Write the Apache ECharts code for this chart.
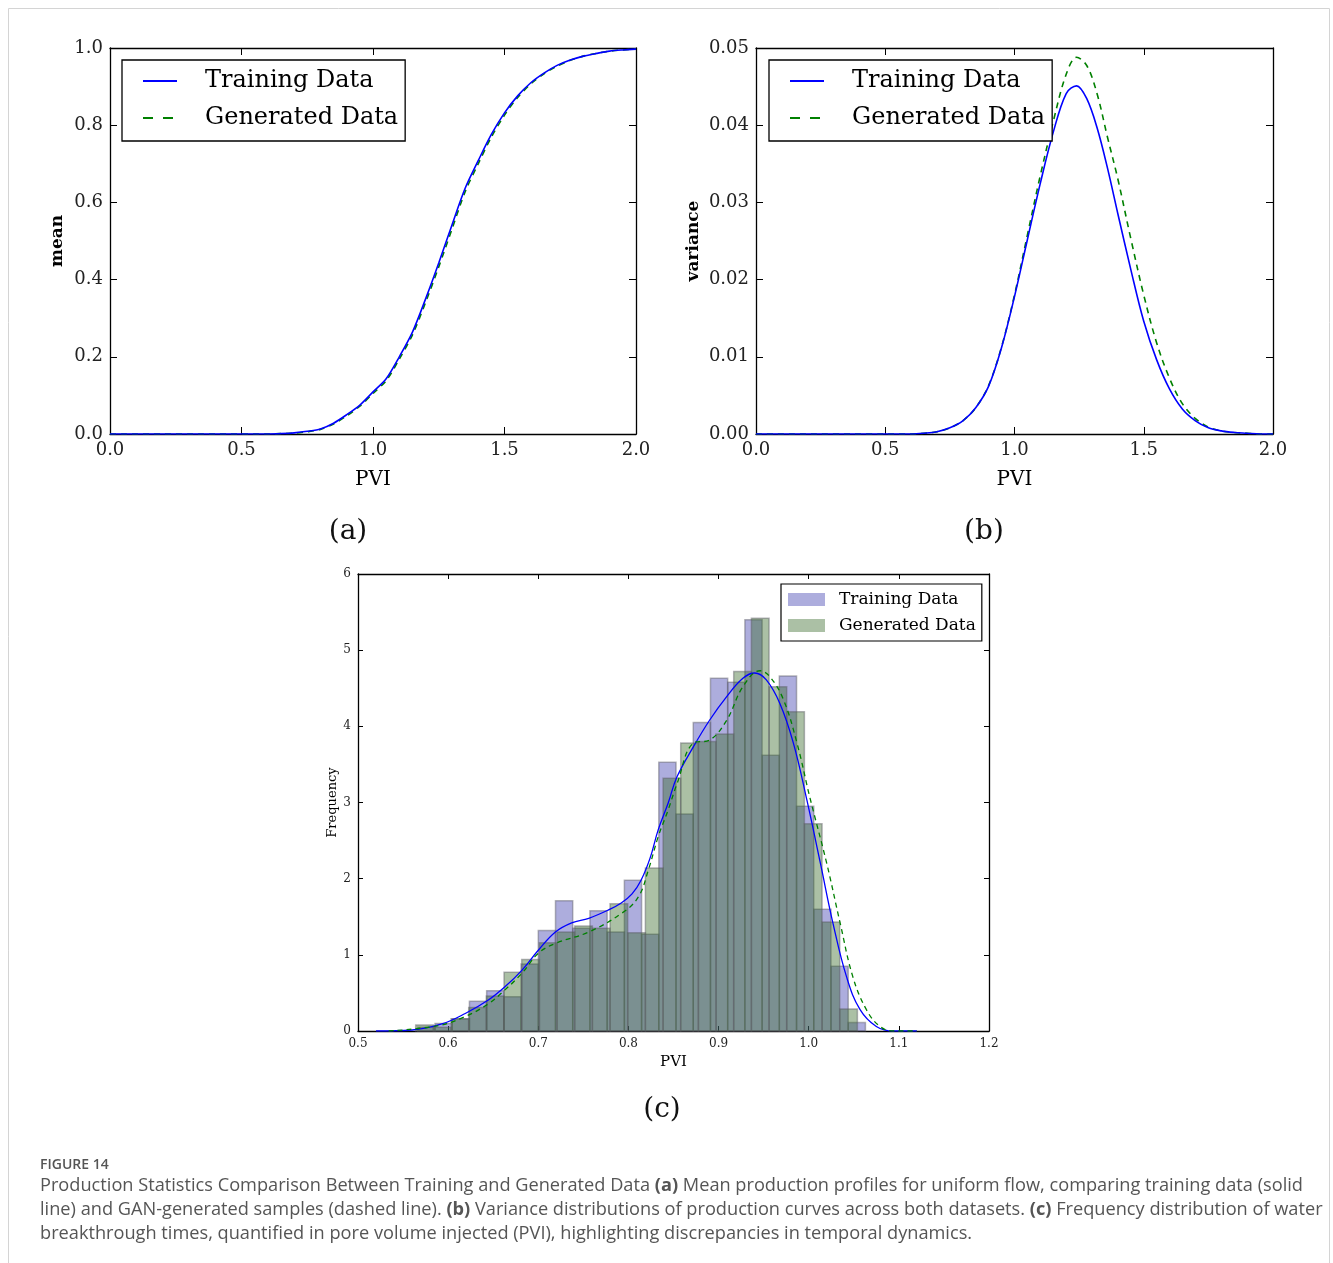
<!DOCTYPE html>
<html>
<head>
<meta charset="utf-8">
<script src="https://cdn.jsdelivr.net/npm/echarts@6/dist/echarts.min.js"></script>
<style>
  html, body { margin: 0; padding: 0; background: #fff; }
  #main { width: 1333px; height: 1263px; }
</style>
</head>
<body>
<div id="main"></div>
<script>
// (a) mean production profile vs PVI
var pviGrid = [0, 0.05, 0.1, 0.15, 0.2, 0.25, 0.3, 0.35, 0.4, 0.45, 0.5, 0.55, 0.6, 0.65, 0.7, 0.75,
  0.8, 0.85, 0.9, 0.95, 1.0, 1.05, 1.1, 1.15, 1.2, 1.25, 1.3, 1.35, 1.4, 1.45, 1.5, 1.55, 1.6,
  1.65, 1.7, 1.75, 1.8, 1.85, 1.9, 1.95, 2.0];
var meanTrain = [0, 0, 0, 0, 0, 0, 0, 0, 0, 0, 0, 0, 0, 0.001, 0.003, 0.007,
  0.013, 0.028, 0.050, 0.075, 0.109, 0.143, 0.200, 0.264, 0.350, 0.443, 0.541, 0.636, 0.708, 0.776, 0.832, 0.876, 0.910,
  0.935, 0.955, 0.969, 0.979, 0.986, 0.992, 0.995, 0.997];
var meanGen = [0, 0, 0, 0, 0, 0, 0, 0, 0, 0, 0, 0, 0, 0.001, 0.002, 0.006,
  0.012, 0.026, 0.047, 0.072, 0.105, 0.138, 0.194, 0.257, 0.341, 0.433, 0.530, 0.627, 0.700, 0.769, 0.826, 0.872, 0.907,
  0.933, 0.953, 0.968, 0.979, 0.986, 0.992, 0.995, 0.997];

// (b) variance vs PVI
var varX = [0, 0.6, 0.65, 0.7, 0.75, 0.8, 0.85, 0.9, 0.95, 1.0, 1.05, 1.1, 1.15, 1.2, 1.24,
  1.28, 1.32, 1.36, 1.4, 1.45, 1.5, 1.55, 1.6, 1.65, 1.7, 1.75, 1.8, 1.85, 1.9, 1.95, 2.0];
var varTrain = [0, 0, 0.0001, 0.0003, 0.0008, 0.0017, 0.0034, 0.0062, 0.0112, 0.0178, 0.0252, 0.0325, 0.0391, 0.0441, 0.0451,
  0.0434, 0.0396, 0.0344, 0.0285, 0.0213, 0.0146, 0.0096, 0.0058, 0.0032, 0.0017, 0.0008, 0.0004, 0.0002, 0.0001, 0, 0];
var varGen = [0, 0, 0.0001, 0.0003, 0.0008, 0.0017, 0.0034, 0.0063, 0.0113, 0.0180, 0.0258, 0.0335, 0.0405, 0.0466, 0.0488,
  0.0477, 0.0440, 0.0384, 0.0330, 0.0253, 0.0180, 0.0118, 0.0072, 0.0039, 0.0020, 0.0009, 0.0004, 0.0002, 0.0001, 0, 0];

// (c) breakthrough time histograms
var trainEdges = [0.5663, 0.5854, 0.6045, 0.6236, 0.6427, 0.6618, 0.6809, 0.7000, 0.7191, 0.7382, 0.7573,
  0.7764, 0.7955, 0.8146, 0.8337, 0.8528, 0.8719, 0.8910, 0.9101, 0.9292, 0.9483, 0.9674, 0.9865,
  1.0056, 1.0247, 1.0438, 1.0629];
var trainFreq = [0.05, 0.10, 0.16, 0.39, 0.53, 0.45, 0.88, 1.32, 1.71, 1.35, 1.58, 1.30, 1.98, 1.27,
  3.53, 2.85, 4.05, 4.63, 4.58, 5.40, 3.62, 4.66, 2.95, 1.60, 0.85, 0.11];
var genEdges = [0.5640, 0.5836, 0.6032, 0.6228, 0.6424, 0.6620, 0.6816, 0.7012, 0.7208, 0.7404, 0.7600,
  0.7796, 0.7992, 0.8188, 0.8384, 0.8580, 0.8776, 0.8972, 0.9168, 0.9364, 0.9560, 0.9756, 0.9952,
  1.0148, 1.0344, 1.0540];
var genFreq = [0.08, 0.05, 0.16, 0.31, 0.46, 0.77, 0.94, 1.16, 1.30, 1.38, 1.35, 1.67, 1.29, 2.14,
  3.32, 3.78, 3.80, 3.90, 4.72, 5.42, 4.52, 4.19, 2.72, 1.43, 0.29];

// (c) density curves
var kdeTrainX = [0.52, 0.56, 0.593, 0.619, 0.645, 0.663, 0.682, 0.700, 0.719, 0.737, 0.756, 0.778, 0.792,
  0.804, 0.814, 0.824, 0.833, 0.844, 0.854, 0.872, 0.890, 0.909, 0.927, 0.940, 0.953, 0.968, 0.983, 0.998,
  1.013, 1.027, 1.042, 1.057, 1.075, 1.094, 1.12];
var kdeTrainY = [0, 0.013, 0.092, 0.23, 0.41, 0.58, 0.80, 1.06, 1.30, 1.42, 1.48, 1.59, 1.68,
  1.80, 1.98, 2.27, 2.64, 2.99, 3.34, 3.73, 4.08, 4.39, 4.63, 4.70, 4.61, 4.30, 3.78, 3.03,
  2.20, 1.41, 0.71, 0.28, 0.06, 0, 0];
var kdeGenX = [0.534, 0.589, 0.619, 0.645, 0.663, 0.682, 0.700, 0.719, 0.756, 0.793, 0.811, 0.822, 0.833,
  0.844, 0.854, 0.872, 0.890, 0.909, 0.927, 0.946, 0.957, 0.972, 0.987, 1.001, 1.020, 1.035, 1.049,
  1.064, 1.079, 1.094, 1.12];
var kdeGenY = [0, 0.07, 0.19, 0.36, 0.54, 0.76, 1.02, 1.15, 1.30, 1.55, 1.76, 2.11, 2.55,
  2.90, 3.25, 3.78, 3.82, 4.08, 4.52, 4.73, 4.65, 4.35, 3.78, 3.08, 2.20, 1.41, 0.71,
  0.28, 0.06, 0, 0];

var SERIF = 'DejaVu Serif';
var SANS = 'Open Sans';

function zip(xs, ys) {
  return xs.map(function (x, i) { return [x, ys[i]]; });
}
function bins(edges, freq) {
  return freq.map(function (f, i) { return [edges[i], edges[i + 1], f]; });
}

function histItem(params, api) {
  var p0 = api.coord([api.value(0), 0]);
  var p1 = api.coord([api.value(1), api.value(2)]);
  return {
    type: 'rect',
    shape: { x: p0[0], y: p1[1], width: p1[0] - p0[0], height: p0[1] - p1[1] },
    style: { fill: api.visual('color'), stroke: 'rgba(90,90,100,0.45)', lineWidth: 1.5 }
  };
}

// matplotlib classic frame: inward ticks on all four sides
function xAx(grid, pos, min, max, step, dec, fs, tickLen, name, nameGap, nameSize) {
  var show = pos === 'bottom';
  return {
    type: 'value', gridIndex: grid, position: pos, min: min, max: max, interval: step,
    axisLine: { onZero: false, lineStyle: { color: '#000', width: 1.3 } },
    axisTick: { inside: true, length: tickLen, lineStyle: { color: '#000', width: 1 } },
    splitLine: { show: false },
    axisLabel: {
      show: show, margin: 7, color: '#222', fontFamily: SERIF, fontSize: fs,
      formatter: function (v) { return v.toFixed(dec); }
    },
    name: show ? name : '', nameLocation: 'middle', nameGap: nameGap,
    nameTextStyle: { fontFamily: SERIF, fontSize: nameSize, color: '#000' }
  };
}
function yAx(grid, pos, min, max, step, dec, fs, tickLen, name, nameGap, nameSize, bold) {
  var show = pos === 'left';
  return {
    type: 'value', gridIndex: grid, position: pos, min: min, max: max, interval: step,
    axisLine: { show: true, onZero: false, lineStyle: { color: '#000', width: 1.3 } },
    axisTick: { show: true, inside: true, length: tickLen, lineStyle: { color: '#000', width: 1 } },
    splitLine: { show: false },
    axisLabel: {
      show: show, margin: 7, color: '#222', fontFamily: SERIF, fontSize: fs,
      formatter: function (v) { return v.toFixed(dec); }
    },
    name: show ? name : '', nameLocation: 'middle', nameGap: nameGap,
    nameTextStyle: { fontFamily: SERIF, fontSize: nameSize, color: '#000', fontWeight: bold ? 'bold' : 'normal' }
  };
}

function lineLegend(left, top, tag) {
  return {
    left: left, top: top, orient: 'vertical', itemWidth: 34, itemHeight: 14, itemGap: 7,
    padding: [6, 7, 8, 20], borderColor: '#000', borderWidth: 1.3, backgroundColor: '#fff',
    selectedMode: false,
    itemStyle: { opacity: 0 },
    textStyle: { fontFamily: SERIF, fontSize: 24, color: '#000', lineHeight: 30, padding: [0, 0, 0, 23] },
    formatter: function (n) { return n.replace(/ \(.\)$/, ''); },
    data: [
      { name: 'Training Data ' + tag },
      { name: 'Generated Data ' + tag, lineStyle: { type: [10, 10] } }
    ]
  };
}

var capRich = {
  b: { fontFamily: SANS, fontSize: 18.2, fontWeight: 'bold', fill: '#555' }
};
function capLine(y, text) {
  return {
    type: 'text', left: 40, top: y,
    style: { text: text, rich: capRich, font: '18.2px "Open Sans"', fill: '#555' }
  };
}

var chart = echarts.init(document.getElementById('main'));
chart.setOption({
  animation: false,
  backgroundColor: '#fff',
  grid: [
    { left: 110, top: 48, width: 526, height: 386 },
    { left: 756, top: 48, width: 517, height: 386 },
    { left: 358, top: 574, width: 631, height: 457 }
  ],
  xAxis: [
    xAx(0, 'bottom', 0, 2, 0.5, 1, 18, 7, 'PVI', 36, 20),
    xAx(0, 'top', 0, 2, 0.5, 1, 18, 7),
    xAx(1, 'bottom', 0, 2, 0.5, 1, 18, 7, 'PVI', 36, 20),
    xAx(1, 'top', 0, 2, 0.5, 1, 18, 7),
    xAx(2, 'bottom', 0.5, 1.2, 0.1, 1, 12, 5, 'PVI', 24, 15),
    xAx(2, 'top', 0.5, 1.2, 0.1, 1, 12, 5)
  ],
  yAxis: [
    yAx(0, 'left', 0, 1, 0.2, 1, 18, 7, 'mean', 44, 17, true),
    yAx(0, 'right', 0, 1, 0.2, 1, 18, 7),
    yAx(1, 'left', 0, 0.05, 0.01, 2, 18, 7, 'variance', 54, 17, true),
    yAx(1, 'right', 0, 0.05, 0.01, 2, 18, 7),
    yAx(2, 'left', 0, 6, 1, 0, 12, 5, 'Frequency', 18, 13, false),
    yAx(2, 'right', 0, 6, 1, 0, 12, 5)
  ],
  legend: [
    lineLegend(122, 60, '(a)'),
    lineLegend(769, 60, '(b)'),
    {
      left: 781, top: 584, orient: 'vertical', itemWidth: 37, itemHeight: 13, itemGap: 7, icon: 'rect',
      padding: [6, 6, 6, 7], borderColor: '#000', borderWidth: 1.2, backgroundColor: '#fff',
      selectedMode: false,
      textStyle: { fontFamily: SERIF, fontSize: 17, color: '#000', lineHeight: 19, padding: [0, 0, 0, 9] },
      formatter: function (n) { return n.replace(/ \(.\)$/, ''); },
      data: ['Training Data (c)', 'Generated Data (c)']
    }
  ],
  series: [
    {
      name: 'Training Data (a)', type: 'line', xAxisIndex: 0, yAxisIndex: 0,
      data: zip(pviGrid, meanTrain), smooth: 0.3, symbol: 'none',
      lineStyle: { color: '#0000ff', width: 1.6 }, itemStyle: { color: '#0000ff' }, z: 3
    },
    {
      name: 'Generated Data (a)', type: 'line', xAxisIndex: 0, yAxisIndex: 0,
      data: zip(pviGrid, meanGen), smooth: 0.3, symbol: 'none',
      lineStyle: { color: '#008000', width: 1.6, type: [6, 5] }, itemStyle: { color: '#008000' }, z: 2
    },
    {
      name: 'Training Data (b)', type: 'line', xAxisIndex: 2, yAxisIndex: 2,
      data: zip(varX, varTrain), smooth: 0.35, symbol: 'none',
      lineStyle: { color: '#0000ff', width: 1.6 }, itemStyle: { color: '#0000ff' }, z: 3
    },
    {
      name: 'Generated Data (b)', type: 'line', xAxisIndex: 2, yAxisIndex: 2,
      data: zip(varX, varGen), smooth: 0.35, symbol: 'none',
      lineStyle: { color: '#008000', width: 1.6, type: [6, 5] }, itemStyle: { color: '#008000' }, z: 2
    },
    {
      name: 'Training Data (c)', type: 'custom', xAxisIndex: 4, yAxisIndex: 4,
      renderItem: histItem, data: bins(trainEdges, trainFreq), encode: { x: [0, 1], y: 2 },
      itemStyle: { color: 'rgba(60,60,175,0.42)' }, z: 1
    },
    {
      name: 'Generated Data (c)', type: 'custom', xAxisIndex: 4, yAxisIndex: 4,
      renderItem: histItem, data: bins(genEdges, genFreq), encode: { x: [0, 1], y: 2 },
      itemStyle: { color: 'rgba(55,105,40,0.42)' }, z: 1
    },
    {
      name: 'kde train', type: 'line', xAxisIndex: 4, yAxisIndex: 4,
      data: zip(kdeTrainX, kdeTrainY), smooth: 0.4, symbol: 'none',
      lineStyle: { color: '#0000ff', width: 1.3 }, z: 4
    },
    {
      name: 'kde gen', type: 'line', xAxisIndex: 4, yAxisIndex: 4,
      data: zip(kdeGenX, kdeGenY), smooth: 0.4, symbol: 'none',
      lineStyle: { color: '#008000', width: 1.3, type: [5, 4] }, z: 4
    }
  ],
  graphic: [
    { type: 'rect', shape: { x: 8.5, y: 8.5, width: 1321, height: 1300 }, style: { fill: 'none', stroke: '#d4d4d4', lineWidth: 1 } },
    { type: 'text', x: 348, y: 532, style: { text: '(a)', font: '28px "DejaVu Serif"', fill: '#111', align: 'center', verticalAlign: 'middle' } },
    { type: 'text', x: 984, y: 532, style: { text: '(b)', font: '28px "DejaVu Serif"', fill: '#111', align: 'center', verticalAlign: 'middle' } },
    { type: 'text', x: 662, y: 1110, style: { text: '(c)', font: '28px "DejaVu Serif"', fill: '#111', align: 'center', verticalAlign: 'middle' } },
    { type: 'text', left: 40, top: 1158, style: { text: 'FIGURE 14', font: '600 14px "Open Sans"', fill: '#555' } },
    capLine(1177, 'Production Statistics Comparison Between Training and Generated Data {b|(a)} Mean production profiles for uniform flow, comparing training data (solid'),
    capLine(1201, 'line) and GAN-generated samples (dashed line). {b|(b)} Variance distributions of production curves across both datasets. {b|(c)} Frequency distribution of water'),
    capLine(1225, 'breakthrough times, quantified in pore volume injected (PVI), highlighting discrepancies in temporal dynamics.')
  ]
});
</script>
</body>
</html>
